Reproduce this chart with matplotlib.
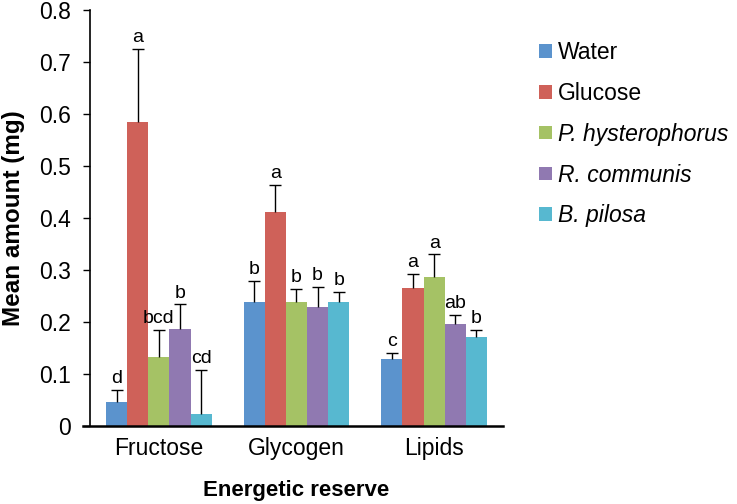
import matplotlib
matplotlib.use("Agg")
import matplotlib.pyplot as plt
import numpy as np
from matplotlib.patches import Patch

plt.rcParams['font.family'] = ['Liberation Sans', 'DejaVu Sans']

categories = ["Fructose", "Glycogen", "Lipids"]
series = ["Water", "Glucose", "P. hysterophorus", "R. communis", "B. pilosa"]
italic_series = [False, False, True, True, True]
colors = ["#5b93cd", "#cf6159", "#a5c265", "#9079b1", "#57b8d0"]

means = {
    "Water":            [0.046, 0.239, 0.128],
    "Glucose":          [0.584, 0.411, 0.265],
    "P. hysterophorus": [0.133, 0.238, 0.286],
    "R. communis":      [0.186, 0.228, 0.196],
    "B. pilosa":        [0.024, 0.238, 0.172],
}
err_tops = {
    "Water":            [0.069, 0.279, 0.140],
    "Glucose":          [0.725, 0.463, 0.292],
    "P. hysterophorus": [0.185, 0.264, 0.330],
    "R. communis":      [0.234, 0.268, 0.214],
    "B. pilosa":        [0.108, 0.258, 0.185],
}
letters = {
    "Water":            ["d", "b", "c"],
    "Glucose":          ["a", "a", "a"],
    "P. hysterophorus": ["bcd", "b", "a"],
    "R. communis":      ["b", "b", "ab"],
    "B. pilosa":        ["cd", "b", "b"],
}
yticks = [0, 0.1, 0.2, 0.3, 0.4, 0.5, 0.6, 0.7, 0.8]
ytick_labels = ["0", "0.1", "0.2", "0.3", "0.4", "0.5", "0.6", "0.7", "0.8"]

fig = plt.figure(figsize=(7.37, 5.04), dpi=100)
ax = fig.add_axes([0.1221, 0.1548, 0.5604, 0.8254])

x = np.arange(len(categories))
n = len(series)
group_w = 0.767
bw = group_w / n

for i, s in enumerate(series):
    pos = x - group_w / 2 + bw * (i + 0.5)
    m = np.array(means[s])
    tops = np.array(err_tops[s])
    ax.bar(pos, m, width=bw, color=colors[i], edgecolor='none', zorder=2)
    ax.vlines(pos, m, tops, colors='black', linewidth=1.0, zorder=3)
    ax.plot(pos, tops, linestyle='none', marker='_', markersize=9,
            markeredgewidth=1.0, color='black', zorder=3)
    for p, t, lab in zip(pos, tops, letters[s]):
        ax.annotate(lab, (p, t), xytext=(0, 2), textcoords='offset points',
                    ha='center', va='bottom', fontsize=14)

ax.set_xlim(-0.5, 2.5)
ax.set_ylim(0, 0.8)
ax.set_yticks(yticks)
ax.set_yticklabels(ytick_labels, fontsize=16.5)
ax.set_xticks(x)
ax.set_xticklabels(categories, fontsize=16.5)
ax.tick_params(axis='x', length=0, pad=8)
ax.tick_params(axis='y', length=5, width=1.0, direction='out', pad=9)
for sp in ['top', 'right']:
    ax.spines[sp].set_visible(False)
ax.spines['left'].set_linewidth(1.2)
ax.spines['bottom'].set_linewidth(1.8)
ax.spines['bottom'].set_bounds(-0.5 - 7 / 137.7, 2.5)
ax.spines['bottom'].set_clip_on(False)

ax.set_ylabel("Mean amount (mg)", fontsize=17.5, fontweight='bold')
ax.yaxis.set_label_coords(-0.157, 0.5)
ax.set_xlabel("Energetic reserve", fontsize=16, fontweight='bold', labelpad=14)

handles = [Patch(facecolor=c, edgecolor='none') for c in colors]
leg = fig.legend(handles, series, loc='upper left', bbox_to_anchor=(0.7195, 0.937),
                 frameon=False, fontsize=16.5, handlelength=0.55, handleheight=0.55,
                 handletextpad=0.25, labelspacing=0.78, borderaxespad=0)
for t, it in zip(leg.get_texts(), italic_series):
    if it:
        t.set_fontstyle('italic')

fig.savefig("out.png", dpi=100)
